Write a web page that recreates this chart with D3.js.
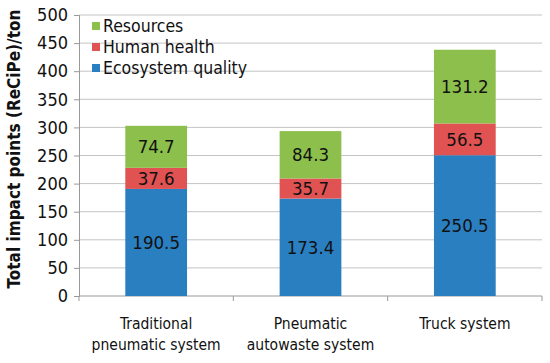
<!DOCTYPE html>
<html>
<head>
<meta charset="utf-8">
<script src="https://cdn.jsdelivr.net/npm/d3@7"></script>
<style>
  body { margin: 0; background: #fff; }
  text { font-family: "DejaVu Sans Condensed", "DejaVu Sans", sans-serif; }
</style>
</head>
<body>
<svg width="550" height="363"></svg>
<script>
// chart data
let categories = [["Traditional", "pneumatic system"], ["Pneumatic", "autowaste system"], ["Truck system"]];
let series = ["Ecosystem quality", "Human health", "Resources"];
let ecosystem = [190.5, 173.4, 250.5];
let health = [37.6, 35.7, 56.5];
let resources = [74.7, 84.3, 131.2];
let yTicks = [0, 50, 100, 150, 200, 250, 300, 350, 400, 450, 500];

let colors = ["#2a7fc1", "#e15252", "#8cbf4c"];

let svg = d3.select("svg");
let margin = {top: 15, right: 8, bottom: 67, left: 79};
let width = 550 - margin.left - margin.right,
    height = 363 - margin.top - margin.bottom;

let g = svg.append("g").attr("transform", "translate(" + margin.left + "," + margin.top + ")");

let rows = categories.map(function(c, i) {
  return {key: i, "Ecosystem quality": ecosystem[i], "Human health": health[i], "Resources": resources[i]};
});
let stacked = d3.stack().keys(series)(rows);

let x = d3.scaleBand()
    .domain(d3.range(categories.length))
    .range([0, width])
    .paddingInner(0.6)
    .paddingOuter(0.3);

let y = d3.scaleLinear().domain([0, 500]).range([height, 0]);

// gridlines
g.append("g")
  .selectAll("line")
  .data(yTicks.slice(1))
  .enter().append("line")
    .attr("x1", 0).attr("x2", width)
    .attr("y1", function(d) { return y(d); })
    .attr("y2", function(d) { return y(d); })
    .attr("stroke", "#c4c4c4")
    .attr("stroke-width", 1);

// y axis
let yAxis = g.append("g")
    .call(d3.axisLeft(y).tickValues(yTicks).tickSize(5).tickPadding(6));
yAxis.select(".domain").attr("stroke", "#999");
yAxis.selectAll(".tick line").attr("stroke", "#999");
yAxis.selectAll("text").attr("font-size", 18).attr("fill", "#111")
    .style("font-family", "'DejaVu Sans Condensed', 'DejaVu Sans', sans-serif");

// x axis line with category dividers
g.append("line")
  .attr("x1", 0).attr("x2", width)
  .attr("y1", height).attr("y2", height)
  .attr("stroke", "#999");
g.append("g")
  .selectAll("line")
  .data(d3.range(categories.length + 1))
  .enter().append("line")
    .attr("x1", function(d) { return d * width / categories.length; })
    .attr("x2", function(d) { return d * width / categories.length; })
    .attr("y1", height).attr("y2", height + 5)
    .attr("stroke", "#999");

// category labels
let cat = g.append("g")
  .selectAll("text")
  .data(categories)
  .enter().append("text")
    .attr("x", function(d, i) { return x(i) + x.bandwidth() / 2; })
    .attr("y", height + 33)
    .attr("text-anchor", "middle")
    .attr("font-size", 15.5)
    .attr("fill", "#111");
cat.selectAll("tspan")
  .data(function(d) { return d; })
  .enter().append("tspan")
    .attr("x", function() { return this.parentNode.getAttribute("x"); })
    .attr("dy", function(d, i) { return i === 0 ? 0 : 21; })
    .text(function(d) { return d; });

// bars
let layer = g.selectAll(".layer")
  .data(stacked)
  .enter().append("g")
    .attr("class", "layer")
    .attr("fill", function(d, i) { return colors[i]; });

layer.selectAll("rect")
  .data(function(d) { return d; })
  .enter().append("rect")
    .attr("x", function(d, i) { return x(i); })
    .attr("y", function(d) { return y(d[1]); })
    .attr("height", function(d) { return y(d[0]) - y(d[1]); })
    .attr("width", x.bandwidth());

// value labels
layer.selectAll("text")
  .data(function(d) { return d; })
  .enter().append("text")
    .attr("x", function(d, i) { return x(i) + x.bandwidth() / 2; })
    .attr("y", function(d) { return (y(d[0]) + y(d[1])) / 2; })
    .attr("dy", "0.36em")
    .attr("text-anchor", "middle")
    .attr("font-size", 18.5)
    .attr("fill", "#111")
    .text(function(d) { return (d[1] - d[0]).toFixed(1); });

// legend
let legendItems = series.slice().reverse();
let legend = g.append("g")
  .selectAll("g")
  .data(legendItems)
  .enter().append("g")
    .attr("transform", function(d, i) { return "translate(13," + (11 + i * 21) + ")"; });
legend.append("rect")
  .attr("x", 0).attr("y", -4)
  .attr("width", 8).attr("height", 8)
  .attr("fill", function(d) { return colors[series.indexOf(d)]; });
legend.append("text")
  .attr("x", 11)
  .attr("dy", "0.36em")
  .attr("font-size", 17.5)
  .attr("fill", "#111")
  .text(function(d) { return d; });

// y axis title
svg.append("text")
  .attr("transform", "translate(20,149) rotate(-90)")
  .attr("text-anchor", "middle")
  .attr("font-size", 17)
  .attr("font-weight", "bold")
  .attr("fill", "#111")
  .text("Total impact points (ReCiPe)/ton");
</script>
</body>
</html>
